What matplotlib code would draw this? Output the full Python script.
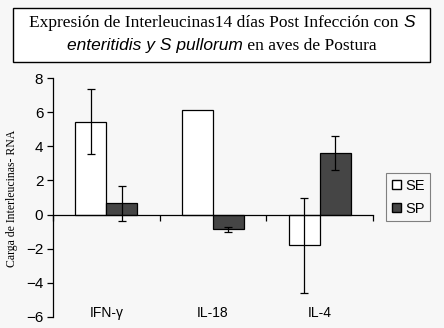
import matplotlib
matplotlib.use("Agg")
import matplotlib.pyplot as plt
import numpy as np
from matplotlib.patches import Patch, Rectangle

categories = ["IFN-γ", "IL-18", "IL-4"]
se_values = [5.45, 6.1, -1.8]
se_errors = [1.9, 0.0, 2.8]
sp_values = [0.65, -0.85, 3.6]
sp_errors = [1.0, 0.15, 1.0]
yticks = [-6, -4, -2, 0, 2, 4, 6, 8]

bg = "#f7f7f7"
fig = plt.figure(figsize=(4.44, 3.28), dpi=100, facecolor=bg)
ax = fig.add_axes([53 / 444, 1 - 317 / 328, 320 / 444, 239 / 328])
ax.set_facecolor(bg)

x = np.arange(len(categories)) + 0.5
w = 0.29
ax.bar(x - w / 2, se_values, w, color="white", edgecolor="black", linewidth=0.9)
ax.bar(x + w / 2, sp_values, w, color="#454545", edgecolor="black", linewidth=0.9)
se_err = [e if e > 0 else np.nan for e in se_errors]
ax.errorbar(x - w / 2, se_values, yerr=se_err, fmt="none", ecolor="black",
            elinewidth=0.9, capsize=3.2, capthick=0.9)
ax.errorbar(x + w / 2, sp_values, yerr=sp_errors, fmt="none", ecolor="black",
            elinewidth=0.9, capsize=3.2, capthick=0.9)

ax.set_xlim(0, 3)
ax.set_ylim(-6, 8)
ax.set_yticks(yticks)
ax.tick_params(axis="y", direction="out", length=4, width=0.9, labelsize=11, pad=3)
for t in ax.get_yticklabels():
    t.set_family("Liberation Sans")
ax.set_xticks([0, 1, 2, 3])
ax.set_xticklabels([])
ax.tick_params(axis="x", direction="out", length=4, width=0.9)
ax.spines["bottom"].set_position(("data", 0))
ax.spines["top"].set_visible(False)
ax.spines["right"].set_visible(False)
for s in ["left", "bottom"]:
    ax.spines[s].set_linewidth(0.9)
for xi, lab in zip(x, categories):
    ax.text(xi, -5.75, lab, ha="center", va="center", fontsize=10,
            family=["Liberation Sans", "DejaVu Sans"])

fig.text(12.5 / 444, 1 - 198 / 328, "Carga de Interleucinas- RNA", rotation=90,
         ha="center", va="center", fontsize=8.5, family="Liberation Serif")

handles = [Patch(facecolor="white", edgecolor="black", label="SE"),
           Patch(facecolor="#454545", edgecolor="black", label="SP")]
leg = fig.legend(handles=handles, loc="upper left",
                 bbox_to_anchor=(386 / 444, 1 - 173 / 328),
                 prop={"family": "Liberation Sans", "size": 10.5},
                 handlelength=0.6, handleheight=0.6, handletextpad=0.3,
                 borderpad=0.4, labelspacing=0.6, fancybox=False,
                 framealpha=1, edgecolor="#808080", facecolor=bg,
                 borderaxespad=0)
leg.get_frame().set_linewidth(0.8)

# title box
fig.patches.append(Rectangle((13 / 444, 1 - 62 / 328), 417 / 444, 54 / 328,
                             transform=fig.transFigure, facecolor="white",
                             edgecolor="black", linewidth=1.0))

serif = dict(family="Liberation Serif", fontsize=12.5)
sans_it = dict(family="Liberation Sans", style="italic", fontsize=12.5)
lines = [
    [("Expresión de Interleucinas14 días Post Infección con ", serif), ("S", sans_it)],
    [("enteritidis y S pullorum", sans_it), (" en aves de Postura", serif)],
]
baselines = [1 - 27 / 328, 1 - 50 / 328]
fig.canvas.draw()
r = fig.canvas.get_renderer()
for parts, yb in zip(lines, baselines):
    texts = [fig.text(0, yb, s, va="baseline", **kw) for s, kw in parts]
    widths = [t.get_window_extent(r).width / fig.bbox.width for t in texts]
    x0 = 222 / 444 - sum(widths) / 2
    for t, wd in zip(texts, widths):
        t.set_x(x0)
        x0 += wd

fig.savefig("out.png", dpi=100, facecolor=bg)
